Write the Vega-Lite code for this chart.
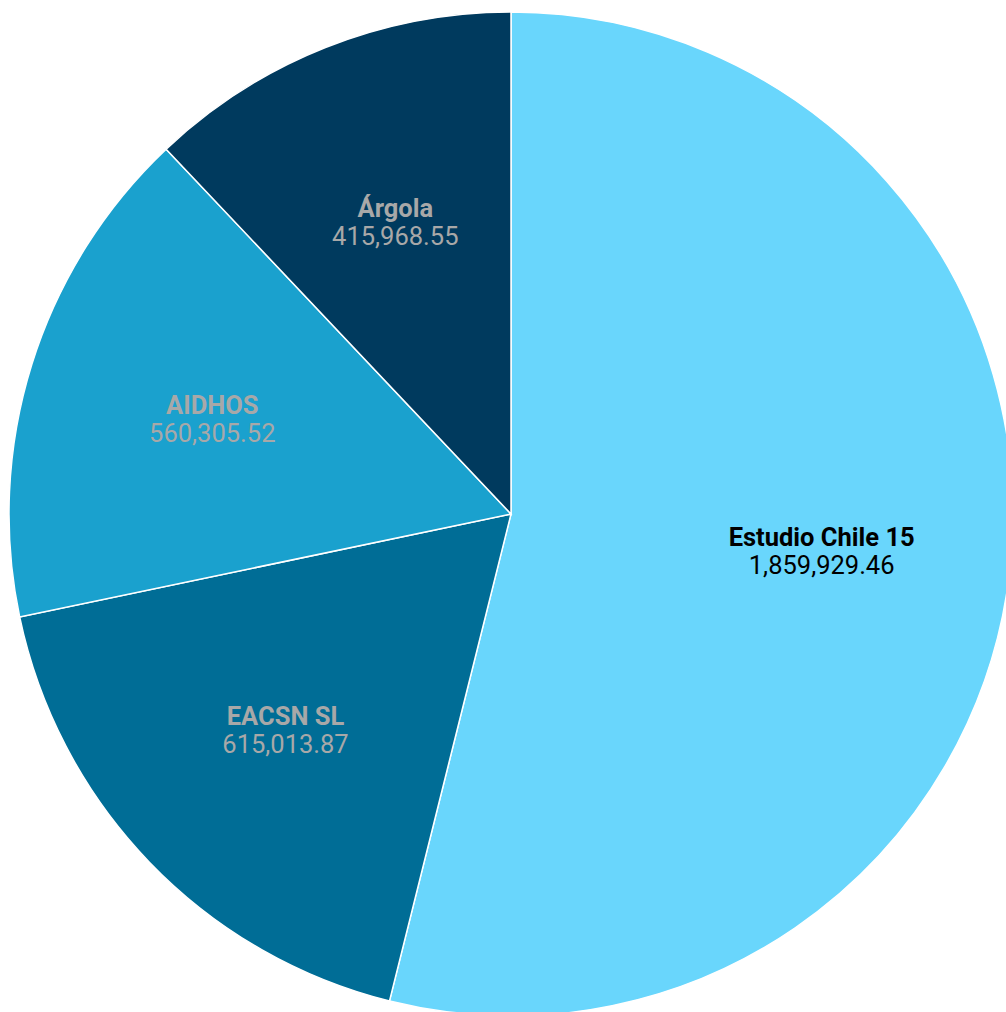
{
  "$schema": "https://vega.github.io/schema/vega-lite/v6.json",
  "width": 1022,
  "height": 1028,
  "autosize": "none",
  "padding": 0,
  "background": "white",
  "data": {"values": [
    {"name": "Estudio Chile 15", "value": 1859929.46, "order": 1},
    {"name": "EACSN SL", "value": 615013.87, "order": 2},
    {"name": "AIDHOS", "value": 560305.52, "order": 3},
    {"name": "Árgola", "value": 415968.55, "order": 4}
  ]},
  "encoding": {
    "theta": {"field": "value", "type": "quantitative", "stack": true},
    "order": {"field": "order", "type": "quantitative"}
  },
  "layer": [
    {
      "mark": {"type": "arc", "outerRadius": 502, "stroke": "white", "strokeWidth": 1.5},
      "encoding": {
        "color": {"field": "name", "type": "nominal", "legend": null,
          "scale": {"domain": ["Estudio Chile 15", "EACSN SL", "AIDHOS", "Árgola"],
                    "range": ["#69d6fc", "#006d96", "#1aa1ce", "#003a5e"]}}
      }
    },
    {
      "mark": {"type": "text", "radius": 313, "dy": -14, "font": "Roboto", "fontSize": 25.5, "fontWeight": "bold"},
      "encoding": {
        "text": {"field": "name"},
        "color": {"condition": {"test": "datum.name === 'Estudio Chile 15'", "value": "#000000"}, "value": "#a8a8a8"}
      }
    },
    {
      "mark": {"type": "text", "radius": 313, "dy": 14, "font": "Roboto", "fontSize": 25.5},
      "encoding": {
        "text": {"field": "value", "type": "quantitative", "format": ",.2f"},
        "color": {"condition": {"test": "datum.name === 'Estudio Chile 15'", "value": "#000000"}, "value": "#a8a8a8"}
      }
    }
  ]
}
